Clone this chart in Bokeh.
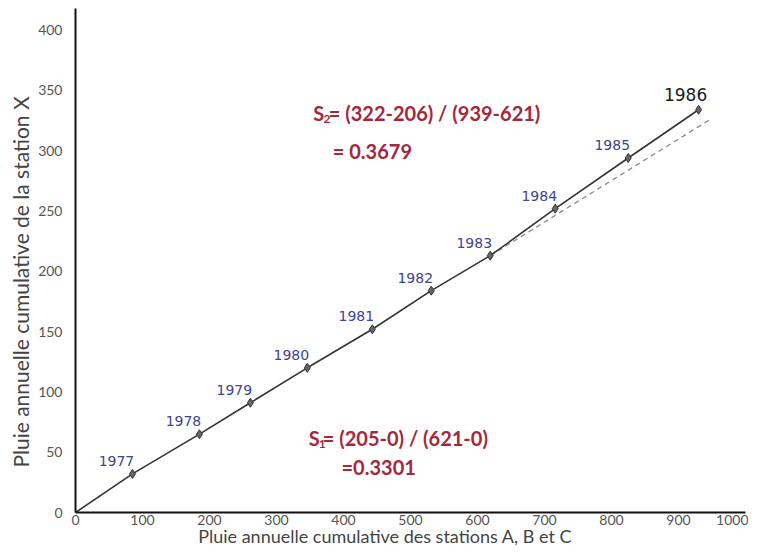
from bokeh.plotting import figure
from bokeh.models import Range1d, ColumnDataSource, FixedTicker
from bokeh.embed import file_html
from bokeh.resources import INLINE
from bokeh.core.properties import value

# ---- data ----
years = ["1977", "1978", "1979", "1980", "1981", "1982", "1983", "1984", "1985", "1986"]
cum_abc = [85, 185, 261, 346, 443, 531, 619, 716, 825, 930]   # Pluie cumulative stations A, B, C
cum_x = [32, 65, 91, 120, 152, 184, 213, 252, 294, 334]        # Pluie cumulative station X
x_ticks = [0, 100, 200, 300, 400, 500, 600, 700, 800, 900, 1000]
y_ticks = [0, 50, 100, 150, 200, 250, 300, 350, 400]
break_index = 6      # 1983: change of slope
dash_end_x = 950     # extension of the first slope

FONT = "Lato"

p = figure(width=748, height=549,
           x_range=Range1d(0, 1000), y_range=Range1d(0, 418),
           output_backend="svg", toolbar_location=None,
           min_border_left=75, min_border_right=3,
           min_border_top=8, min_border_bottom=37)
p.outline_line_color = None
p.grid.visible = False
p.background_fill_color = "white"

for ax in (p.xaxis[0], p.yaxis[0]):
    ax.axis_line_color = "#111111"
    ax.axis_line_width = 2
    ax.major_tick_line_color = None
    ax.minor_tick_line_color = None
    ax.major_label_text_font = FONT
    ax.major_label_text_font_size = "14px"
    ax.major_label_text_color = "#555555"
    ax.axis_label_text_font = FONT
    ax.axis_label_text_font_style = "normal"
    ax.axis_label_text_color = "#444444"

p.xaxis.ticker = FixedTicker(ticks=x_ticks)
p.yaxis.ticker = FixedTicker(ticks=y_ticks)
p.xaxis.major_label_standoff = -4
p.yaxis.major_label_standoff = 7
p.xaxis.axis_label = "Pluie annuelle cumulative des stations A, B et C" + "\u00a0" * 11
p.xaxis.axis_label_text_font_size = "18px"
p.xaxis.axis_label_standoff = -3
p.yaxis.axis_label = "Pluie annuelle cumulative de la station X" + "\u00a0" * 8
p.yaxis.axis_label_text_font_size = "21px"
p.yaxis.axis_label_standoff = 2

# dashed extension of the first slope
slope1 = cum_x[break_index] / cum_abc[break_index]
p.line([cum_abc[break_index], dash_end_x],
       [cum_x[break_index], slope1 * dash_end_x],
       line_color="#8a8a8a", line_width=1.3, line_dash="5 4")

# main double-mass curve
src = ColumnDataSource(dict(x=cum_abc, y=cum_x, year=years))
p.line([0] + cum_abc, [0] + cum_x, line_color="#333333", line_width=1.6)
p.scatter("x", "y", source=src, marker="diamond", size=9,
          fill_color="#666666", line_color="#333333", line_width=1)

# year labels
lab = ColumnDataSource(dict(x=cum_abc[:-1], y=cum_x[:-1], year=years[:-1]))
p.text("x", "y", text="year", source=lab, x_offset=-16, y_offset=-13,
       text_align="center", text_baseline="middle",
       text_font=value("DejaVu Sans"), text_font_size="14px",
       text_color="#3d4590")
p.text([cum_abc[-1]], [cum_x[-1]], text=[years[-1]], x_offset=-13, y_offset=-15,
       text_align="center", text_baseline="middle",
       text_font=value("DejaVu Sans"), text_font_size="17px",
       text_color="#1a1a1a")

# slope annotations
RED = "#a3283c"
def ann(x, y, t, size="20px", yoff=0):
    p.text([x], [y], text=[t], text_align="left", text_baseline="middle",
           y_offset=yoff, text_font=value(FONT), text_font_size=size,
           text_font_style="bold", text_color=RED)

ann(355, 331, "S")
ann(370, 331, "2", size="12px", yoff=6)
ann(378, 331, "= (322-206) / (939-621)")
ann(384, 300, "= 0.3679")

ann(348, 62, "S")
ann(363, 62, "1", size="12px", yoff=6)
ann(369, 62, "= (205-0) / (621-0)")
ann(397, 38, "=0.3301")

open("out.html", "w").write(file_html(p, INLINE))
